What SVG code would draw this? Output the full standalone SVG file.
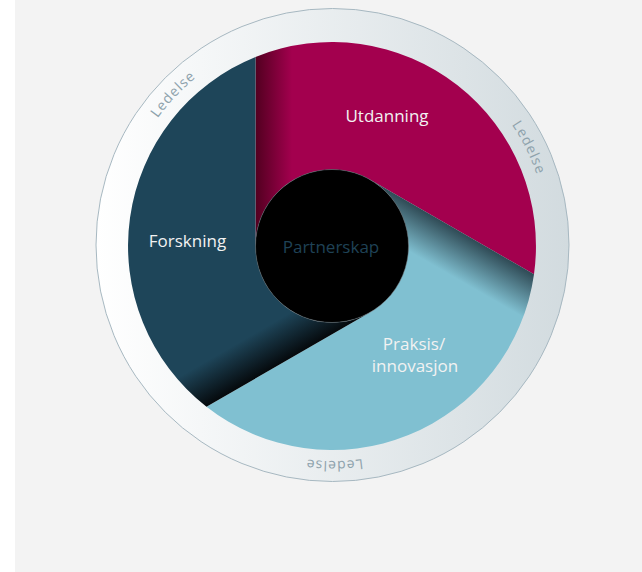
<svg xmlns="http://www.w3.org/2000/svg" xmlns:xlink="http://www.w3.org/1999/xlink" width="642" height="572" viewBox="0 0 642 572">
  <style>
    .lbl { font-family: "Open Sans", "Noto Sans", "Liberation Sans", sans-serif; font-size: 17px; fill: #f2f2f2; text-anchor: middle; }
    .led { font-family: "Open Sans", "Noto Sans", "Liberation Sans", sans-serif; font-size: 14px; fill: #8ea2ac; letter-spacing: 1px; }
  </style>
  <defs>
    <linearGradient id="ringGrad" x1="0" y1="0" x2="1" y2="0">
      <stop offset="0" stop-color="#ffffff"/>
      <stop offset="1" stop-color="#d2dbdf"/>
    </linearGradient>
    <linearGradient id="gUtd" gradientUnits="userSpaceOnUse" x1="255.5" y1="0" x2="292" y2="0">
      <stop offset="0" stop-color="#520020"/>
      <stop offset="1" stop-color="#a3004e"/>
    </linearGradient>
    <linearGradient id="gPrak" gradientUnits="userSpaceOnUse" x1="255.5" y1="0" x2="298" y2="0">
      <stop offset="0" stop-color="#2f4a55"/>
      <stop offset="1" stop-color="#80c0d1"/>
    </linearGradient>
    <linearGradient id="gFor" gradientUnits="userSpaceOnUse" x1="255.5" y1="0" x2="295" y2="0">
      <stop offset="0" stop-color="#05090c"/>
      <stop offset="1" stop-color="#1e4559"/>
    </linearGradient>
    <path id="slice" d="M255.5,246 L255.5,56.9 A204,204 0 0 1 534,274.3 L370.25,179.75 A76.5,76.5 0 0 0 255.5,246 Z"/>
    <path id="ledPath" d="M116.5,245 A216,216 0 1 1 548.5,245 A216,216 0 1 1 116.5,245"/>
  </defs>

  <rect x="0" y="0" width="642" height="572" fill="#ffffff"/>
  <rect x="15" y="0" width="627" height="572" fill="#f3f3f3"/>

  <g id="ring">
    <circle cx="332.5" cy="245" r="236.5" fill="url(#ringGrad)" stroke="#a7b8c1" stroke-width="1"/>
    <text class="led"><textPath xlink:href="#ledPath" href="#ledPath" startOffset="163.6" text-anchor="middle">Ledelse</textPath></text>
    <text class="led"><textPath xlink:href="#ledPath" href="#ledPath" startOffset="579" text-anchor="middle">Ledelse</textPath></text>
    <text class="led"><textPath xlink:href="#ledPath" href="#ledPath" startOffset="1015.6" text-anchor="middle">Ledelse</textPath></text>
  </g>

  <g id="utdanning">
    <use xlink:href="#slice" href="#slice" fill="url(#gUtd)"/>
    <text class="lbl" x="387" y="121.5">Utdanning</text>
  </g>

  <g id="praksis">
    <use xlink:href="#slice" href="#slice" fill="url(#gPrak)" transform="rotate(120 332 246)"/>
    <text class="lbl" x="414" y="350">Praksis/</text>
    <text class="lbl" x="415" y="372">innovasjon</text>
  </g>

  <g id="forskning">
    <use xlink:href="#slice" href="#slice" fill="url(#gFor)" transform="rotate(240 332 246)"/>
    <text class="lbl" x="187.5" y="246.5">Forskning</text>
  </g>

  <g id="connectors"></g>

  <g id="partnerskap">
    <circle cx="332" cy="246" r="76.5" fill="#000000" stroke="#5a6a72" stroke-width="0.5"/>
    <text class="lbl" x="331" y="252.5" style="fill:#1f4256">Partnerskap</text>
  </g>
</svg>
